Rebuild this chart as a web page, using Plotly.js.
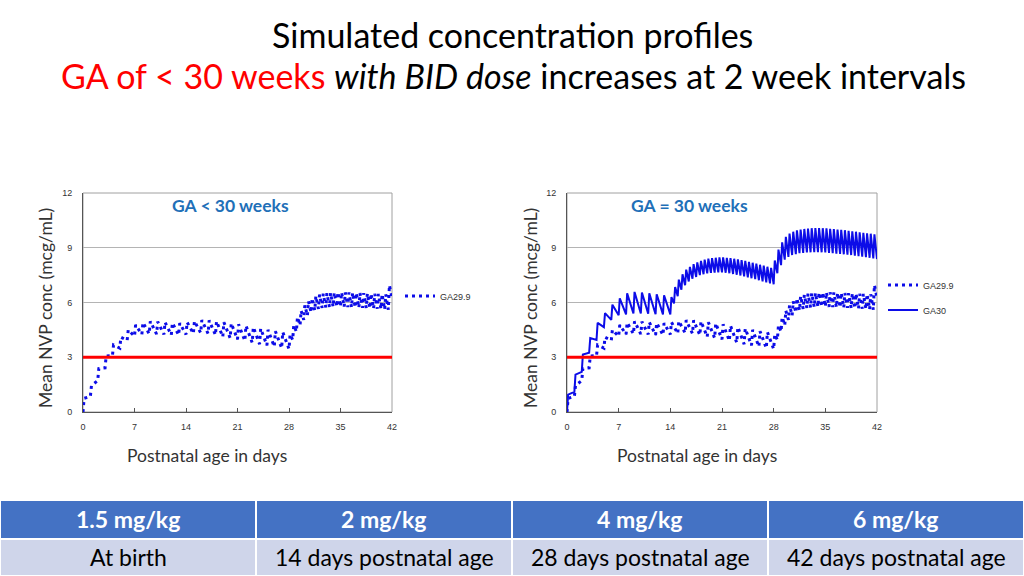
<!DOCTYPE html>
<html><head><meta charset="utf-8">
<script src="https://cdn.plot.ly/plotly-3.0.1.min.js"></script>
<style>html,body{margin:0;padding:0;background:#fff;}#chart{width:1024px;height:576px;}</style>
</head><body><div id="chart"></div>
<script>
// ---------- data ----------
const xTickVals = [0, 7, 14, 21, 28, 35, 42];
const yTickVals = [0, 3, 6, 9, 12];
const threshold = 3;

const ga299Name = 'GA29.9';
const ga299DoseDays = [0,1,2,3,4,5,6,7,8,9,10,11,12,13,14,15,16,17,18,19,20,21,22,23,24,25,26,27,
  28,28.5,29,29.5,30,30.5,31,31.5,32,32.5,33,33.5,34,34.5,35,35.5,36,36.5,37,37.5,38,38.5,39,39.5,40,40.5,41,41.5];
const ga299Troughs = [0,0.85,1.72,2.42,3.08,3.5,3.92,4.15,4.25,4.28,4.27,4.25,4.22,4.22,4.25,4.3,4.33,4.3,4.22,4.12,4.05,3.98,3.9,3.8,3.72,3.65,3.58,3.5,
  3.45,3.95,4.4,4.75,5.05,5.28,5.45,5.57,5.65,5.7,5.73,5.75,5.76,5.77,5.77,5.76,5.75,5.74,5.73,5.72,5.71,5.7,5.68,5.67,5.66,5.64,5.62,5.6];
const ga299Peaks = [0.75,1.45,2.38,3.07,3.67,4.1,4.5,4.77,4.9,4.97,4.95,4.92,4.88,4.87,4.92,4.98,5.03,5.02,4.97,4.92,4.86,4.8,4.73,4.65,4.57,4.5,4.43,4.38,
  4.25,4.75,5.2,5.55,5.85,6.07,6.23,6.35,6.43,6.48,6.51,6.53,6.55,6.56,6.56,6.56,6.55,6.54,6.53,6.52,6.51,6.5,6.49,6.48,6.47,6.46,6.45,6.95];
const ga299EndDay = 42, ga299EndValue = 6.25;

const ga30Name = 'GA30';
const ga30DoseDays = [0,1,2,3,4,5,6,7,8,9,10,11,12,13,
  14,14.5,15,15.5,16,16.5,17,17.5,18,18.5,19,19.5,20,20.5,21,21.5,22,22.5,23,23.5,24,24.5,25,25.5,26,26.5,27,27.5,
  28,28.5,29,29.5,30,30.5,31,31.5,32,32.5,33,33.5,34,34.5,35,35.5,36,36.5,37,37.5,38,38.5,39,39.5,40,40.5,41,41.5];
const ga30Troughs = [0,1.1,2.2,3.25,3.95,4.65,5.05,5.3,5.35,5.4,5.4,5.38,5.36,5.35,
  5.35,5.95,6.35,6.7,6.95,7.15,7.3,7.4,7.5,7.55,7.6,7.62,7.64,7.65,7.65,7.63,7.6,7.56,7.52,7.48,7.43,7.38,7.33,7.28,7.22,7.16,7.1,7.05,
  7.0,7.6,8.05,8.35,8.5,8.6,8.65,8.7,8.72,8.74,8.75,8.76,8.76,8.75,8.74,8.72,8.7,8.68,8.66,8.64,8.62,8.6,8.57,8.54,8.51,8.48,8.45,8.42];
const ga30Peaks = [0.95,2.05,3.15,4.05,4.88,5.42,5.88,6.23,6.5,6.58,6.55,6.5,6.45,6.4,
  6.3,6.85,7.25,7.55,7.8,7.95,8.1,8.2,8.28,8.35,8.4,8.43,8.45,8.47,8.47,8.45,8.43,8.4,8.36,8.32,8.28,8.23,8.18,8.13,8.07,8.02,7.96,7.9,
  8.3,8.9,9.3,9.6,9.78,9.88,9.95,10.0,10.03,10.05,10.07,10.08,10.08,10.07,10.06,10.04,10.02,10.0,9.98,9.96,9.93,9.9,9.88,9.85,9.82,9.79,9.77,9.74];
const ga30EndDay = 42, ga30EndValue = 8.38;

const panelTitles = ['GA &lt; 30 weeks', 'GA = 30 weeks'];
const yTitle = 'Mean NVP conc (mcg/mL)';
const xTitle = 'Postnatal age in days';
const doseLabels = ['1.5 mg/kg', '2 mg/kg', '4 mg/kg', '6 mg/kg'];
const doseTimes = ['At birth', '14 days postnatal age', '28 days postnatal age', '42 days postnatal age'];

// ---------- build ----------
function profile(days, troughs, peaks, endDay, endValue) {
  const x = [], y = [];
  for (let i = 0; i < days.length; i++) {
    const next = i + 1 < days.length ? days[i + 1] : endDay;
    const rise = Math.min(0.15, (next - days[i]) * 0.3);
    x.push(days[i]); y.push(troughs[i]);
    x.push(days[i] + rise); y.push(peaks[i]);
  }
  x.push(endDay); y.push(endValue);
  return {x, y};
}
const p299 = profile(ga299DoseDays, ga299Troughs, ga299Peaks, ga299EndDay, ga299EndValue);
const p30 = profile(ga30DoseDays, ga30Troughs, ga30Peaks, ga30EndDay, ga30EndValue);

const BLUE = '#0c0ce8';
const dotted = {color: BLUE, width: 3, dash: '3px,4px'};
const solid = {color: BLUE, width: 2};
const xEnds = [xTickVals[0], xTickVals[xTickVals.length - 1]];

const traces = [
  {x: p299.x, y: p299.y, xaxis: 'x', yaxis: 'y', mode: 'lines', name: ga299Name, line: dotted, legend: 'legend', hoverinfo: 'skip'},
  {x: p299.x, y: p299.y, xaxis: 'x2', yaxis: 'y2', mode: 'lines', name: ga299Name, line: dotted, legend: 'legend2', hoverinfo: 'skip'},
  {x: p30.x, y: p30.y, xaxis: 'x2', yaxis: 'y2', mode: 'lines', name: ga30Name, line: solid, legend: 'legend3', hoverinfo: 'skip'},
  {x: xEnds, y: [threshold, threshold], xaxis: 'x', yaxis: 'y', mode: 'lines', line: {color: '#ff0000', width: 3}, showlegend: false, hoverinfo: 'skip'},
  {x: xEnds, y: [threshold, threshold], xaxis: 'x2', yaxis: 'y2', mode: 'lines', line: {color: '#ff0000', width: 3}, showlegend: false, hoverinfo: 'skip'}
];

const W = 1024, H = 576;
const px = v => v / W, py = v => 1 - v / H;
const tickFont = {family: 'Liberation Sans, Arial, sans-serif', size: 9, color: '#333'};
const sans = 'Lato, Carlito, sans-serif';

function xa(domain) {
  return {domain, range: [0, 42], tickvals: xTickVals, ticks: 'inside', ticklen: 4, tickcolor: '#555',
    showgrid: false, zeroline: false, showline: true, linecolor: '#555', linewidth: 1,
    tickfont: tickFont, ticklabelstandoff: 6, fixedrange: true};
}
function ya(domain, anchor) {
  return {domain, anchor, range: [0, 12], tickvals: yTickVals, ticks: '', showgrid: true, gridcolor: '#b4b4b4', gridwidth: 1,
    zeroline: false, showline: true, linecolor: '#555', linewidth: 1, tickfont: tickFont, ticklabelstandoff: 8, fixedrange: true};
}
const yDom = [py(412), py(193)];

function note(text, x, y, font, extra) {
  return Object.assign({text, x: px(x), y: py(y), xref: 'paper', yref: 'paper', showarrow: false,
    xanchor: 'center', yanchor: 'middle', font}, extra || {});
}
const annotations = [
  note('Simulated concentration profiles', 512, 35, {family: sans, size: 34, color: '#000'}),
  note('<span style="color:#ff0000">GA of &lt; 30 weeks</span> <i>with BID dose</i> increases at 2 week intervals', 513, 75, {family: sans, size: 34, color: '#000'}),
  note('<b>' + panelTitles[0] + '</b>', 230, 205, {family: sans, size: 17.5, color: '#1f70b8'}),
  note('<b>' + panelTitles[1] + '</b>', 689, 205, {family: sans, size: 17.5, color: '#1f70b8'}),
  note(yTitle, 45, 308, {family: sans, size: 17.5, color: '#333'}, {textangle: -90}),
  note(yTitle, 530, 308, {family: sans, size: 17.5, color: '#333'}, {textangle: -90}),
  note(xTitle, 207, 455, {family: sans, size: 17.5, color: '#333'}),
  note(xTitle, 697, 455, {family: sans, size: 17.5, color: '#333'})
];
const shapes = [
  {type: 'rect', xref: 'x domain', yref: 'y domain', x0: 0, x1: 1, y0: 0, y1: 1, line: {color: '#a0a0a0', width: 1}, layer: 'below'},
  {type: 'rect', xref: 'x2 domain', yref: 'y2 domain', x0: 0, x1: 1, y0: 0, y1: 1, line: {color: '#a0a0a0', width: 1}, layer: 'below'}
];
doseLabels.forEach((lab, i) => {
  shapes.push({type: 'rect', xref: 'paper', yref: 'paper', x0: i / 4, x1: (i + 1) / 4, y0: py(539), y1: py(500),
    fillcolor: '#4472c4', line: {color: '#ffffff', width: 2}, layer: 'above'});
  shapes.push({type: 'rect', xref: 'paper', yref: 'paper', x0: i / 4, x1: (i + 1) / 4, y0: 0, y1: py(539),
    fillcolor: '#cfd5ea', line: {color: '#ffffff', width: 2}, layer: 'above'});
  annotations.push(note('<b>' + lab + '</b>', (i + 0.5) * 256, 519, {family: sans, size: 23, color: '#ffffff'}));
  annotations.push(note(doseTimes[i], (i + 0.5) * 256, 557, {family: sans, size: 23, color: '#000'}));
});

const legendBase = {xanchor: 'left', yanchor: 'middle', bgcolor: 'rgba(0,0,0,0)', font: tickFont, itemwidth: 30, borderwidth: 0};
const layout = {
  width: W, height: H, margin: {l: 0, r: 0, t: 0, b: 0}, paper_bgcolor: '#fff', plot_bgcolor: '#fff',
  showlegend: true,
  xaxis: Object.assign(xa([px(83), px(392)]), {anchor: 'y'}), yaxis: ya(yDom, 'x'),
  xaxis2: Object.assign(xa([px(567), px(877)]), {anchor: 'y2'}), yaxis2: ya(yDom, 'x2'),
  legend: Object.assign({}, legendBase, {x: px(400), y: py(296)}),
  legend2: Object.assign({}, legendBase, {x: px(883), y: py(285)}),
  legend3: Object.assign({}, legendBase, {x: px(883), y: py(310)}),
  annotations, shapes
};
Plotly.newPlot('chart', traces, layout, {staticPlot: true, displayModeBar: false});
</script></body></html>
